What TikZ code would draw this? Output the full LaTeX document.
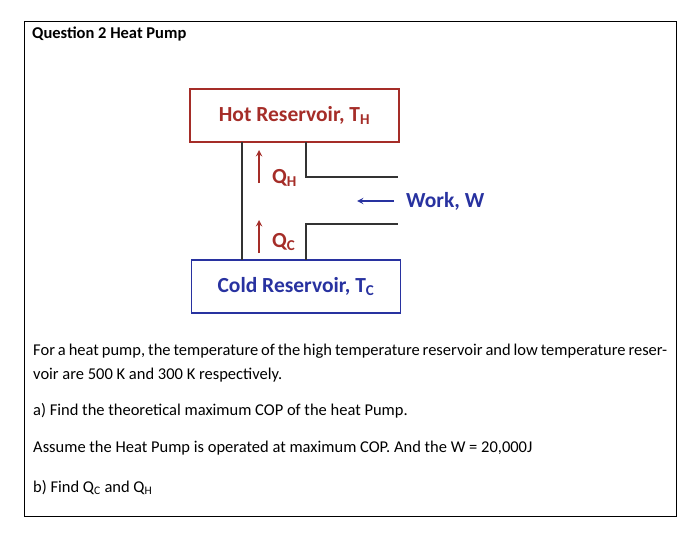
\documentclass[tikz,border=0pt]{standalone}
\usepackage{fontspec}
\setmainfont{Carlito}
\definecolor{hot}{RGB}{165,45,40}
\definecolor{cold}{RGB}{40,50,160}
\begin{document}
\begin{tikzpicture}[x=1pt,y=-1pt,
  box/.style={draw,line width=1.2pt,minimum width=209pt,minimum height=53pt,font=\fontsize{21.5}{24}\selectfont\bfseries,inner sep=0pt},
  lab/.style={font=\fontsize{21.5}{24}\selectfont\bfseries,anchor=west,inner sep=0pt},
  wall/.style={draw=black!80,line width=1.2pt},
  harrow/.style={draw=hot,line width=1.8pt,-stealth},
  txt/.style={anchor=north west,inner sep=0pt,font=\fontsize{16.5}{24}\selectfont}]
\useasboundingbox (0,0) rectangle (700,535);
\draw[line width=0.8pt] (24,21) rectangle (676,516);
\node[anchor=north west,inner sep=0pt,font=\fontsize{16.5}{18}\selectfont\bfseries] (title) at (32,27) {Question 2 Heat Pump};
\node[box,draw=hot,text=hot] (hot) at (294.5,115.5) {Hot Reservoir, T\textsubscript{H}};
\node[box,draw=cold,text=cold] (cold) at (296,286.5) {Cold Reservoir, T\textsubscript{C}};
\coordinate (a1) at (242,142); \coordinate (a2) at (242,260);
\draw[wall] (a1) -- (a2);
\coordinate (b1) at (306,142); \coordinate (b2) at (306,177); \coordinate (b3) at (398,177);
\draw[wall] (b1) -- (b2) -- (b3);
\coordinate (c1) at (306,260); \coordinate (c2) at (306,224); \coordinate (c3) at (398,224);
\draw[wall] (c1) -- (c2) -- (c3);
\coordinate (q1s) at (259,183); \coordinate (q1e) at (259,150);
\draw[harrow] (q1s) -- (q1e);
\node[lab,text=hot] (qh) at (272,178) {Q\textsubscript{H}};
\coordinate (q2s) at (259,253); \coordinate (q2e) at (259,220);
\draw[harrow] (q2s) -- (q2e);
\node[lab,text=hot] (qc) at (272,242) {Q\textsubscript{C}};
\node[lab,text=cold] (work) at (406,201) {Work, W};
\coordinate (w0) at (394,201); \coordinate (w1) at (357,201);
\draw[draw=cold,line width=1.8pt,-stealth] (w0) -- (w1);
\node[txt,text width=634pt,align=justify] (p1) at (33,344) {For a heat pump, the temperature of the high temperature reservoir and low temperature reservoir are 500 K and 300 K respectively.};
\node[txt] (p2) at (33,403) {a) Find the theoretical maximum COP of the heat Pump.};
\node[txt] (p3) at (33,441) {Assume the Heat Pump is operated at maximum COP. And the W = 20,000J};
\node[txt] (p4) at (33,480) {b) Find Q\textsubscript{C} and Q\textsubscript{H}};
\end{tikzpicture}
\end{document}
